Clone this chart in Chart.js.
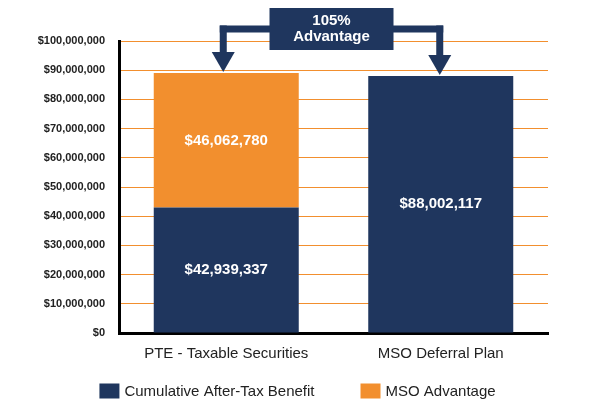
<!DOCTYPE html>
<html>
<head>
<meta charset="utf-8">
<script src="https://cdn.jsdelivr.net/npm/chart.js@4"></script>
<style>
  html, body { margin: 0; padding: 0; background: #fff; }
  #wrap { width: 595px; height: 408px; }
</style>
</head>
<body>
<div id="wrap"><canvas id="chart"></canvas></div>
<script>
// Chart data
const categories = ['PTE - Taxable Securities', 'MSO Deferral Plan'];
const afterTaxBenefit = [42939337, 88002117];
const msoAdvantage = [46062780, 0];
const yTicks = [0, 10000000, 20000000, 30000000, 40000000, 50000000, 60000000, 70000000, 80000000, 90000000, 100000000];
const calloutLines = ['105%', 'Advantage'];

const NAVY = '#1f365e';
const ORANGE = '#f28f2e';
const FONT = "'Liberation Sans', Arial, sans-serif";

function money(v) {
  return '$' + Math.round(v).toLocaleString('en-US');
}

// white value labels in the middle of each bar segment
const barLabels = {
  id: 'barLabels',
  afterDatasetsDraw(chart) {
    const ctx = chart.ctx;
    ctx.save();
    ctx.fillStyle = '#fff';
    ctx.font = 'bold 15px ' + FONT;
    ctx.textAlign = 'center';
    ctx.textBaseline = 'middle';
    chart.data.datasets.forEach((ds, i) => {
      chart.getDatasetMeta(i).data.forEach((bar, j) => {
        if (!ds.data[j]) return;
        const p = bar.getProps(['x', 'y', 'base'], true);
        ctx.fillText(money(ds.data[j]), p.x, (p.y + p.base) / 2);
      });
    });
    ctx.restore();
  }
};

// "105% Advantage" box with arrows pointing down to both bars
const callout = {
  id: 'callout',
  afterDatasetsDraw(chart) {
    const ctx = chart.ctx;
    const x = chart.scales.x, y = chart.scales.y;
    const top = chart.chartArea.top;
    const xL = x.getPixelForValue(0) - 3;
    const xR = x.getPixelForValue(1) - 1;
    const tipL = y.getPixelForValue(afterTaxBenefit[0] + msoAdvantage[0]) - 1;
    const tipR = y.getPixelForValue(afterTaxBenefit[1] + msoAdvantage[1]) - 1;
    const lineY = top - 12;
    const shaft = 7;
    const headW = 23, headH = 20;

    ctx.save();
    ctx.fillStyle = NAVY;
    // horizontal connector
    ctx.fillRect(xL - shaft / 2, lineY - shaft / 2, xR - xL + shaft, shaft);
    // shafts
    ctx.fillRect(xL - shaft / 2, lineY - shaft / 2, shaft, tipL - headH - lineY + shaft / 2);
    ctx.fillRect(xR - shaft / 2, lineY - shaft / 2, shaft, tipR - headH - lineY + shaft / 2);
    // heads
    [[xL, tipL], [xR, tipR]].forEach(([hx, hy]) => {
      ctx.beginPath();
      ctx.moveTo(hx - headW / 2, hy - headH);
      ctx.lineTo(hx + headW / 2, hy - headH);
      ctx.lineTo(hx, hy);
      ctx.closePath();
      ctx.fill();
    });
    // box
    const cx = (xL + xR) / 2;
    const bw = 124, bt = top - 33, bh = 42;
    ctx.fillRect(cx - bw / 2, bt, bw, bh);
    ctx.fillStyle = '#fff';
    ctx.font = 'bold 15px ' + FONT;
    ctx.textAlign = 'center';
    ctx.textBaseline = 'middle';
    ctx.fillText(calloutLines[0], cx, bt + 13);
    ctx.fillText(calloutLines[1], cx, bt + 29);
    ctx.restore();
  }
};

// legend centred on the whole page (the built-in one centres on the padded box)
const pageLegend = {
  id: 'pageLegend',
  afterDraw(chart) {
    const ctx = chart.ctx;
    const boxW = 20, boxH = 15, gap = 5, itemGap = 46;
    const y = chart.height - 17;
    ctx.save();
    ctx.font = '15px ' + FONT;
    const items = chart.data.datasets.map(ds => ({
      text: ds.label, color: ds.backgroundColor, w: boxW + gap + ctx.measureText(ds.label).width
    }));
    const total = items.reduce((s, it) => s + it.w, 0) + itemGap * (items.length - 1);
    let x = (chart.width - total) / 2;
    ctx.textBaseline = 'middle';
    ctx.textAlign = 'left';
    items.forEach(it => {
      ctx.fillStyle = it.color;
      ctx.fillRect(x, y - boxH / 2, boxW, boxH);
      ctx.fillStyle = '#222';
      ctx.fillText(it.text, x + boxW + gap, y + 1);
      x += it.w + itemGap;
    });
    ctx.restore();
  }
};

new Chart(document.getElementById('chart'), {
  type: 'bar',
  data: {
    labels: categories,
    datasets: [
      {
        label: 'Cumulative After-Tax Benefit',
        data: afterTaxBenefit,
        backgroundColor: NAVY,
        barPercentage: 0.676,
        categoryPercentage: 1,
      },
      {
        label: 'MSO Advantage',
        data: msoAdvantage,
        backgroundColor: ORANGE,
        barPercentage: 0.676,
        categoryPercentage: 1,
      },
    ],
  },
  options: {
    responsive: true,
    maintainAspectRatio: false,
    animation: false,
    layout: { padding: { top: 41, right: 47, left: 0, bottom: 35 } },
    plugins: {
      tooltip: { enabled: false },
      legend: { display: false },
    },
    scales: {
      x: {
        stacked: true,
        afterFit(s) { s.height = 40; },
        grid: { display: false, drawTicks: false },
        border: { display: true, color: '#000', width: 3 },
        ticks: { color: '#222', padding: 12, font: { family: FONT, size: 15 } },
      },
      y: {
        stacked: true,
        min: yTicks[0],
        max: yTicks[yTicks.length - 1],
        afterFit(s) { s.width = 119; },
        afterBuildTicks(s) { s.ticks = yTicks.map(v => ({ value: v })); },
        grid: { color: ORANGE, lineWidth: 1, drawTicks: false },
        border: { display: true, color: '#000', width: 3 },
        ticks: {
          color: '#222',
          padding: 14,
          font: { family: FONT, size: 11, weight: 'bold' },
          callback: v => money(v),
        },
      },
    },
  },
  plugins: [barLabels, callout, pageLegend],
});
</script>
</body>
</html>
